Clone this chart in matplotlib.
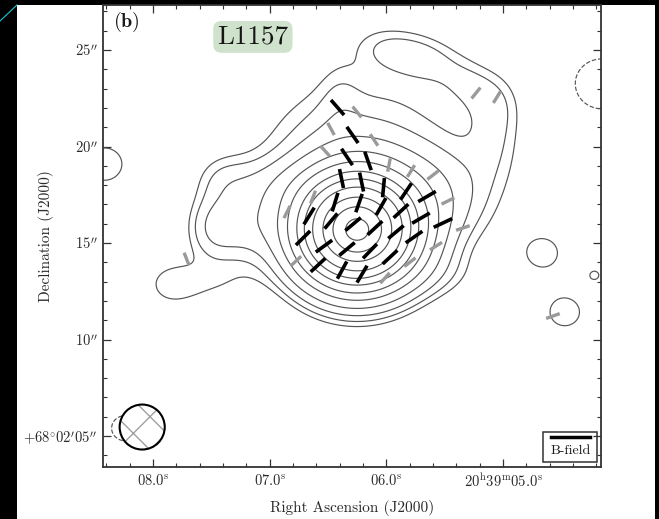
import numpy as np
import matplotlib
matplotlib.use("Agg")
import matplotlib.pyplot as plt
from matplotlib.collections import LineCollection
from matplotlib.patches import Ellipse, Rectangle
from matplotlib.lines import Line2D

plt.rcParams['font.family'] = ['cmr10', 'DejaVu Serif']
plt.rcParams['mathtext.fontset'] = 'cm'
plt.rcParams['axes.unicode_minus'] = False
plt.rcParams['hatch.linewidth'] = 1.0

DEC_DEG = 68.03  # declination of the field, sets the RA scale
ASEC_PER_S = 15 * np.cos(np.radians(DEC_DEG))

# dust emission model: RA in s after 20h39m, Dec in arcsec after +68d02'
# core, base, north, east, right edge 1/2, lobe a/b/c, lobe halo, neck, nw, nw2, shelf1, shelf2,
# sw, se, left lobe, islands (e, se, tiny, w), negative holes (ne, sw)
comp_ra = [6.252, 6.312, 6.226, 5.541, 5.069, 5.069, 5.986, 5.669, 5.284, 5.626,
           6.398, 6.955, 7.409, 7.469, 7.169, 7.494, 5.541, 7.854, 4.658, 4.470,
           4.213, 8.420, 4.153, 8.240]
comp_dec = [15.67, 18.52, 19.82, 17.60, 20.34, 22.15, 25.00, 24.58, 23.19, 24.22,
            22.67, 18.00, 18.37, 15.78, 15.93, 12.93, 13.34, 12.82, 14.48, 11.42,
            13.34, 19.09, 23.24, 5.41]
comp_sig_u = [1.75, 4.5, 2.6, 1.8, 0.9, 0.9, 1.1, 1.1, 1.1, 3.0,
              0.7, 1.8, 0.9, 0.9, 1.0, 1.6, 1.4, 1.1, 0.93, 0.86,
              0.45, 1.0, 1.0, 0.5]
comp_sig_v = [1.75, 3.5, 2.3, 1.8, 1.6, 1.2, 0.75, 0.75, 0.75, 1.5,
              1.3, 1.0, 0.9, 1.2, 1.3, 0.75, 0.9, 1.1, 0.93, 0.86,
              0.45, 1.0, 1.0, 0.5]
comp_theta = [0, 0, 0, 0, 0, 0, -10, -20, -40, -25,
              0, 0, 0, 0, 0, 0, 0, 0, 0, 0,
              0, 0, 0, 0]
comp_amp = [100, 1.2, 3.8, 4.2, 1.8, 1.2, 1.7, 1.7, 1.7, 1.1,
            1.0, 2.5, 1.4, 4.0, 3.5, 1.3, 1.2, 1.75, 2.3, 2.5,
            1.9, 2.5, -4.2, -4.2]

contour_levels = [-1.8, 1.8, 2.7, 4.2, 7, 11.8, 18, 27, 36.5, 49, 66, 82, 97]

# B-field segments, position angle in degrees east of north
black_ra = [6.419, 6.291, 6.338, 6.158, 6.385, 6.213, 6.025, 5.832, 5.652, 6.440,
            6.235, 6.046, 5.875, 5.704, 6.663, 5.515, 6.475, 6.286, 6.098, 5.918,
            5.763, 6.715, 6.535, 6.338, 6.141, 5.969, 6.586, 6.380, 6.209]
black_dec = [22.02, 20.60, 19.46, 19.25, 18.34, 18.16, 17.87, 17.67, 17.41, 17.12,
             17.07, 16.89, 16.66, 16.29, 16.40, 16.04, 16.14, 15.98, 15.78, 15.57,
             15.31, 15.26, 14.84, 14.69, 14.58, 14.27, 13.86, 13.60, 13.39]
black_pa = [39, 33, 32, 18, 11, 11, 175, 148, 122, 164,
            162, 152, 135, 122, 150, 117, 142, 132, 135, 132,
            127, 137, 128, 132, 138, 135, 135, 153, 151]

gray_ra = [7.713, 6.252, 6.475, 6.106, 6.526, 5.978, 5.789, 5.601, 5.472, 5.344,
           5.575, 5.798, 6.012, 6.775, 6.629, 6.852, 5.232, 5.052, 4.572]
gray_dec = [14.17, 21.79, 20.91, 20.34, 19.77, 19.04, 18.73, 18.52, 17.18, 15.78,
            14.84, 14.01, 13.19, 14.07, 17.38, 16.61, 22.77, 22.56, 11.22]
gray_pa = [20, 37, 27, 32, 40, 170, 150, 130, 118, 110,
           124, 130, 140, 135, 160, 155, 143, 150, 111]

x_ticks = [8.0, 7.0, 6.0, 5.0]
x_labels = [r'$08.0^{\rm s}$', r'$07.0^{\rm s}$', r'$06.0^{\rm s}$', r'$20^{\rm h}39^{\rm m}05.0^{\rm s}$']
y_ticks = [5, 10, 15, 20, 25]
y_labels = [r'$+68^{\circ}02^{\prime}05^{\prime\prime}$', r'$10^{\prime\prime}$', r'$15^{\prime\prime}$',
            r'$20^{\prime\prime}$', r'$25^{\prime\prime}$']

beam_ra, beam_dec = 8.094, 5.47  # beam centre
beam_ra_size, beam_dec_size = 2.17, 2.33  # beam size in arcsec


def build_field(RA, DEC):  # sums the gaussian components on the grid
    field = np.zeros_like(RA)
    for ra0, dec0, su, sv, th, amp in zip(comp_ra, comp_dec, comp_sig_u, comp_sig_v, comp_theta, comp_amp):
        u = -(RA - ra0) * ASEC_PER_S
        v = DEC - dec0
        t = np.radians(th)
        up = u * np.cos(t) + v * np.sin(t)
        vp = -u * np.sin(t) + v * np.cos(t)
        field += amp * np.exp(-0.5 * ((up / su) ** 2 + (vp / sv) ** 2))
    return field


def make_segments(ra, dec, pa, length):  # turns centre + angle into two end points
    segs = []
    for r, d, p in zip(ra, dec, pa):
        half = length / 2
        dra = half * np.sin(np.radians(p)) / ASEC_PER_S
        ddec = half * np.cos(np.radians(p))
        segs.append([(r + dra, d + ddec), (r - dra, d - ddec)])
    return segs


fig = plt.figure(figsize=(6.59, 5.19), dpi=100, facecolor='black')
fig.add_artist(Rectangle((17 / 659, 0), 638 / 659, 514 / 519, transform=fig.transFigure,
                         fc='white', ec='none', zorder=0))
fig.add_artist(Line2D([0, 17 / 659], [1 - 21 / 519, 1 - 5 / 519], transform=fig.transFigure,
                      color='#19c8d8', lw=0.8))

ax = fig.add_axes([103 / 659, 52 / 519, 498 / 659, 462 / 519])
ax.set_facecolor('white')

ra_grid = np.linspace(4.0, 8.7, 500)
dec_grid = np.linspace(2.0, 29.0, 500)
RA, DEC = np.meshgrid(ra_grid, dec_grid)
field = build_field(RA, DEC)
ax.contour(RA, DEC, field, levels=contour_levels, colors='#555555', linewidths=0.85,
           negative_linestyles='dashed', zorder=2)

# polarization segments
ax.add_collection(LineCollection(make_segments(gray_ra, gray_dec, gray_pa, 0.7),
                                 colors='#9a9a9a', linewidths=2.4, capstyle='butt', zorder=3))
ax.add_collection(LineCollection(make_segments(black_ra, black_dec, black_pa, 1.0),
                                 colors='black', linewidths=2.6, capstyle='butt', zorder=4))

# beam
beam_w = beam_ra_size / ASEC_PER_S
ax.add_patch(Ellipse((beam_ra, beam_dec), beam_w, beam_dec_size, fc='white', ec='#a0a0a0',
                     lw=0, hatch='x', zorder=5))
ax.add_patch(Ellipse((beam_ra, beam_dec), beam_w, beam_dec_size, fill=False, ec='black',
                     lw=1.5, zorder=6))

ax.set_xlim(8.43, 4.16)
ax.set_ylim(3.4, 27.33)
ax.set_xticks(x_ticks)
ax.set_xticklabels(x_labels)
ax.set_yticks(y_ticks)
ax.set_yticklabels(y_labels)
ax.set_xticks(np.arange(4.2, 8.5, 0.2), minor=True)
ax.set_yticks(np.arange(4, 28, 1), minor=True)
ax.tick_params(which='both', direction='in', top=True, right=True, color='#333333',
               labelsize=10.5, labelcolor='#2a2a2a')
ax.tick_params(which='major', length=6, width=0.9, pad=4)
ax.tick_params(which='minor', length=3, width=0.8)
for sp in ax.spines.values():
    sp.set_linewidth(1.3)
    sp.set_color('#333333')

ax.set_xlabel('Right Ascension (J2000)', fontsize=11, color='#2a2a2a')
ax.set_ylabel('Declination (J2000)', fontsize=11, color='#2a2a2a')
ax.xaxis.set_label_coords(0.5, -0.072)
ax.yaxis.set_label_coords(-0.098, 0.5)

ax.text(0.02, 0.963, r'$\mathbf{(b)}$', transform=ax.transAxes, fontsize=14.5,
        ha='left', va='center', color='#1a1a1a')
ax.text(0.301, 0.931, 'L1157', transform=ax.transAxes, fontsize=19.5, ha='center', va='center',
        color='#151515', bbox=dict(boxstyle='round,pad=0.15,rounding_size=0.3', fc='#cfe2cc', ec='none'))

# B-field key in the corner
ax.add_patch(Rectangle((0.884, 0.011), 0.108, 0.065, transform=ax.transAxes, fill=False,
                       ec='#333333', lw=1.1, zorder=7))
ax.add_line(Line2D([0.90, 0.978], [0.064, 0.064], transform=ax.transAxes, color='black', lw=2.5, zorder=7))
ax.text(0.939, 0.034, 'B-field', transform=ax.transAxes, fontsize=10, ha='center', va='center',
        color='#1a1a1a', zorder=7)

fig.savefig('out.png', dpi=100, facecolor='black')
